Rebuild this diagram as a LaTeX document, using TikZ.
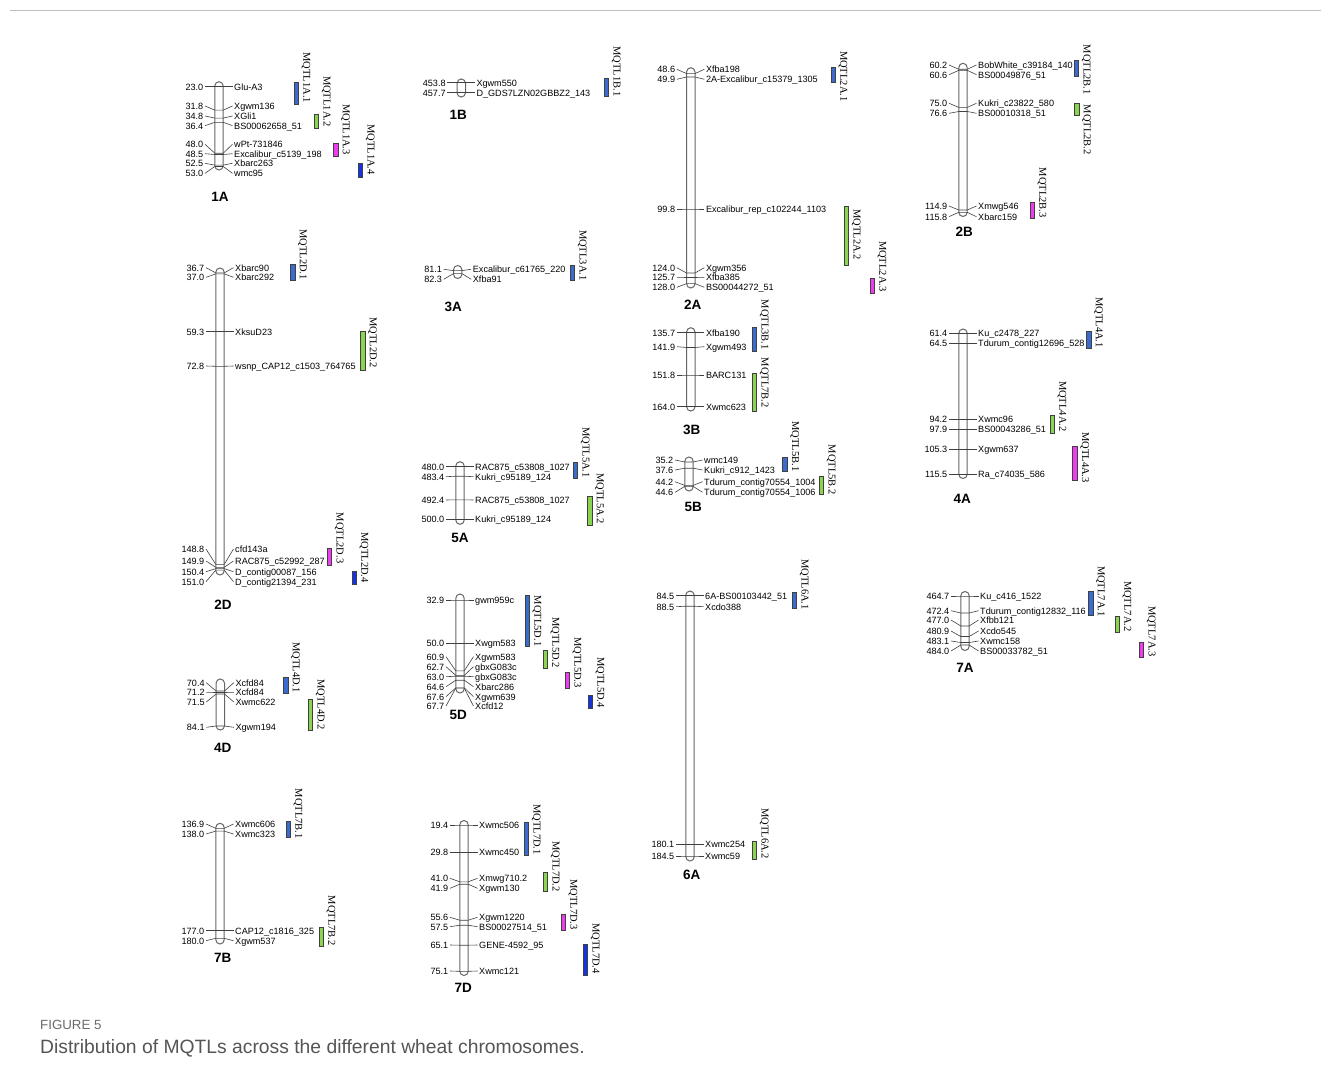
\documentclass[tikz,border=0pt]{standalone}
\usepackage{fontspec}
\setmainfont{Liberation Sans}
\newfontfamily\serifq{Liberation Serif}
\usetikzlibrary{calc}
\definecolor{qblue}{HTML}{3A6CD0}
\definecolor{qgreen}{HTML}{8AD44F}
\definecolor{qmag}{HTML}{EE3DEE}
\definecolor{qdark}{HTML}{1432E6}
\definecolor{capgray}{HTML}{555555}
\definecolor{figgray}{HTML}{6A6A6A}
\newcounter{mkc}
\newcounter{qc}
\tikzset{
  numl/.style={anchor=east, inner sep=0pt, text height=6.6pt, text depth=0pt, font=\fontsize{9.1}{10}\selectfont},
  naml/.style={anchor=west, inner sep=0pt, text height=6.6pt, text depth=0pt, font=\fontsize{9.1}{10}\selectfont},
  mline/.style={draw=black!75, line width=0.6pt},
  chrom/.style={draw=black!60, line width=1pt, fill=white, rounded corners=4.2pt, minimum width=8.4pt, inner sep=0pt},
  clab/.style={font=\fontsize{13.5}{14}\selectfont\bfseries, inner sep=0pt},
  qbar/.style={draw=black!75, line width=0.6pt},
  qlab/.style={rotate=-90, anchor=east, inner sep=0pt, text height=7.2pt, text depth=2.2pt, font=\fontsize{10.5}{11}\selectfont\serifq},
}
\newcommand\mk[5]{%
  \stepcounter{mkc}\edef\mkid{\arabic{mkc}}%
  \node[numl] (n\mkid) at (#1-15.5,#2) {#4};
  \node[naml] (m\mkid) at (#1+15,#2) {#5};
  \draw[mline] (n\mkid.east) ++(1.5,0) -- (#1-4.2,#3) -- (#1+4.2,#3) -- ($(m\mkid.west)+(-1.5,0)$);
}
\newcommand\chr[6]{%
  \node[chrom, minimum height={#4-#3}] (c#1) at (#2,{(#3+#4)/2}) {};
  \node[clab] (l#1) at (#5,#6) {#1};
}
\newcommand\qtl[6]{%
  \stepcounter{qc}\edef\qid{\arabic{qc}}%
  \draw[qbar, fill=#4] (#1,#2) rectangle (#1+4.3,#3);
  \node[qlab] (q\qid) at (#1+11.8,#6) {#5};
}
\begin{document}
\begin{tikzpicture}[x=1pt,y=-1pt]
\fill[white] (0,0) rectangle (1331,1081);
\useasboundingbox (0,0) rectangle (1331,1081);
\coordinate (rl) at (10,10.5);
\coordinate (rr) at (1321,10.5);
\draw[black!25, line width=0.8pt] (rl) -- (rr);

% ---------- 1A
\chr{1A}{219}{81.7}{170}{220}{196.7}
\mk{219}{86.7}{86.7}{23.0}{Glu-A3}
\mk{219}{106}{110.1}{31.8}{Xgwm136}
\mk{219}{116}{118.1}{34.8}{XGli1}
\mk{219}{125.7}{122.3}{36.4}{BS00062658\_51}
\mk{219}{144.3}{153.2}{48.0}{wPt-731846}
\mk{219}{153.7}{154.5}{48.5}{Excalibur\_c5139\_198}
\mk{219}{163.3}{165.1}{52.5}{Xbarc263}
\mk{219}{173.3}{166.5}{53.0}{wmc95}
\qtl{294}{82}{104.3}{qblue}{MQTL1A.1}{103.3}
\qtl{314.3}{114.3}{128.3}{qgreen}{MQTL1A.2}{126.7}
\qtl{333.5}{143.3}{156}{qmag}{MQTL1A.3}{155}
\qtl{358.3}{163.3}{177.3}{qdark}{MQTL1A.4}{175}

% ---------- 2D
\chr{2D}{220}{268}{575}{223}{605}
\mk{220}{267.7}{272.9}{36.7}{Xbarc90}
\mk{220}{277.3}{273.9}{37.0}{Xbarc292}
\mk{220}{331.7}{331.7}{59.3}{XksuD23}
\mk{220}{366}{366.3}{72.8}{wsnp\_CAP12\_c1503\_764765}
\mk{220}{549}{564.4}{148.8}{cfd143a}
\mk{220}{561}{567.3}{149.9}{RAC875\_c52992\_287}
\mk{220}{571.7}{568.6}{150.4}{D\_contig00087\_156}
\mk{220}{581.7}{570.1}{151.0}{D\_contig21394\_231}
\qtl{290.5}{264.3}{280}{qblue}{MQTL2D.1}{280}
\qtl{360.5}{331}{370}{qgreen}{MQTL2D.2}{368}
\qtl{327.2}{548.3}{565}{qmag}{MQTL2D.3}{563.5}
\qtl{352}{571}{584.3}{qdark}{MQTL2D.4}{583}

% ---------- 4D
\chr{4D}{220.3}{679}{730}{222.7}{748.3}
\mk{220.3}{682.7}{691}{70.4}{Xcfd84}
\mk{220.3}{692.3}{692.5}{71.2}{Xcfd84}
\mk{220.3}{702}{694}{71.5}{Xwmc622}
\mk{220.3}{727.3}{726}{84.1}{Xgwm194}
\qtl{283.5}{677.7}{693.3}{qblue}{MQTL4D.1}{693}
\qtl{308.3}{699.3}{730}{qgreen}{MQTL4D.2}{730}

% ---------- 7B
\chr{7B}{220}{823.3}{944}{222.7}{958.3}
\mk{220}{824}{828.3}{136.9}{Xwmc606}
\mk{220}{834}{831.1}{138.0}{Xwmc323}
\mk{220}{930.7}{930.7}{177.0}{CAP12\_c1816\_325}
\mk{220}{940.7}{938.3}{180.0}{Xgwm537}
\qtl{286}{821.7}{837.3}{qblue}{MQTL7B.1}{839}
\qtl{319}{927.3}{946}{qgreen}{MQTL7B.2}{946}

% ---------- 1B
\chr{1B}{461.3}{79}{97}{458.3}{115}
\mk{461.3}{82.7}{82.7}{453.8}{Xgwm550}
\mk{461.3}{92.7}{92.7}{457.7}{D\_GDS7LZN02GBBZ2\_143}
\qtl{604.3}{78.3}{96.7}{qblue}{MQTL1B.1}{96.7}

% ---------- 3A
\chr{3A}{457.7}{265.5}{278.5}{453.3}{306.7}
\mk{457.7}{269.3}{270.6}{81.1}{Excalibur\_c61765\_220}
\mk{457.7}{279.3}{273.6}{82.3}{Xfba91}
\qtl{570.3}{265}{280.7}{qblue}{MQTL3A.1}{280.7}

% ---------- 5A
\chr{5A}{460}{461.7}{524.3}{460}{538.3}
\mk{460}{466.7}{466.7}{480.0}{RAC875\_c53808\_1027}
\mk{460}{476.7}{476.2}{483.4}{Kukri\_c95189\_124}
\mk{460}{500}{499.8}{492.4}{RAC875\_c53808\_1027}
\mk{460}{519.3}{519.3}{500.0}{Kukri\_c95189\_124}
\qtl{573.3}{462.7}{478.3}{qblue}{MQTL5A.1}{478}
\qtl{587.5}{496}{525}{qgreen}{MQTL5A.2}{524}

% ---------- 5D
\chr{5D}{460}{594}{693}{458.3}{715}
\mk{460}{600}{600}{32.9}{gwm959c}
\mk{460}{643.3}{643.3}{50.0}{Xwgm583}
\mk{460}{656.7}{670.9}{60.9}{Xgwm583}
\mk{460}{666.7}{675.4}{62.7}{gbxG083c}
\mk{460}{676.7}{676.2}{63.0}{gbxG083c}
\mk{460}{686.7}{680.2}{64.6}{Xbarc286}
\mk{460}{696.7}{687.8}{67.6}{Xgwm639}
\mk{460}{706}{688.1}{67.7}{Xcfd12}
\qtl{525}{595}{646}{qblue}{MQTL5D.1}{646.5}
\qtl{543}{650}{668.3}{qgreen}{MQTL5D.2}{668}
\qtl{565}{672.3}{688.3}{qmag}{MQTL5D.3}{688}
\qtl{588}{695.7}{708.3}{qdark}{MQTL5D.4}{708}

% ---------- 7D
\chr{7D}{464}{820.5}{975.5}{463.3}{987.7}
\mk{464}{825}{825}{19.4}{Xwmc506}
\mk{464}{852.3}{852.3}{29.8}{Xwmc450}
\mk{464}{878.3}{881.8}{41.0}{Xmwg710.2}
\mk{464}{888.3}{884.2}{41.9}{Xgwm130}
\mk{464}{917.3}{920.2}{55.6}{Xgwm1220}
\mk{464}{926.7}{925.2}{57.5}{BS00027514\_51}
\mk{464}{945}{945.2}{65.1}{GENE-4592\_95}
\mk{464}{971}{971.3}{75.1}{Xwmc121}
\qtl{524.3}{822.3}{855.7}{qblue}{MQTL7D.1}{855}
\qtl{543.3}{872.7}{891.7}{qgreen}{MQTL7D.2}{892}
\qtl{561}{914.3}{930}{qmag}{MQTL7D.3}{930}
\qtl{583.3}{944}{975}{qdark}{MQTL7D.4}{974}

% ---------- 2A
\chr{2A}{690.8}{67.7}{288}{692.7}{304.3}
\mk{690.8}{69.3}{73.6}{48.6}{Xfba198}
\mk{690.8}{79.3}{77}{49.9}{2A-Excalibur\_c15379\_1305}
\mk{690.8}{209}{209}{99.8}{Excalibur\_rep\_c102244\_1103}
\mk{690.8}{267.7}{273}{124.0}{Xgwm356}
\mk{690.8}{277.3}{277.5}{125.7}{Xfba385}
\mk{690.8}{287.3}{283.6}{128.0}{BS00044272\_51}
\qtl{831}{67}{82.7}{qblue}{MQTL2A.1}{101.7}
\qtl{844.3}{206.7}{265}{qgreen}{MQTL2A.2}{260}
\qtl{870}{278.3}{293.3}{qmag}{MQTL2A.3}{291.7}

% ---------- 3B
\chr{3B}{690.8}{327.7}{411}{691.7}{430}
\mk{690.8}{332.7}{332.7}{135.7}{Xfba190}
\mk{690.8}{346.7}{347.5}{141.9}{Xgwm493}
\mk{690.8}{375}{375}{151.8}{BARC131}
\mk{690.8}{406.7}{406.7}{164.0}{Xwmc623}
\qtl{752.3}{327.7}{351.7}{qblue}{MQTL3B.1}{350}
\qtl{752.3}{373.3}{411}{qgreen}{MQTL7B.2}{408}

% ---------- 5B
\chr{5B}{689}{457}{491}{693.3}{507.3}
\mk{689}{460}{462}{35.2}{wmc149}
\mk{689}{470}{468.2}{37.6}{Kukri\_c912\_1423}
\mk{689}{481.7}{485.4}{44.2}{Tdurum\_contig70554\_1004}
\mk{689}{492.3}{486.4}{44.6}{Tdurum\_contig70554\_1006}
\qtl{782.7}{457.7}{471.7}{qblue}{MQTL5B.1}{471.7}
\qtl{819.3}{476}{494.3}{qgreen}{MQTL5B.2}{495}

% ---------- 6A
\chr{6A}{690}{591}{861}{691.7}{875}
\mk{690}{595.7}{595.7}{84.5}{6A-BS00103442\_51}
\mk{690}{606.7}{606.2}{88.5}{Xcdo388}
\mk{690}{844.3}{844.3}{180.1}{Xwmc254}
\mk{690}{856}{856}{184.5}{Xwmc59}
\qtl{792.3}{592.7}{608.3}{qblue}{MQTL6A.1}{610}
\qtl{752.3}{841.7}{859}{qgreen}{MQTL6A.2}{859}

% ---------- 2B
\chr{2B}{963}{63.3}{216.5}{964.3}{231.7}
\mk{963}{65}{69.3}{60.2}{BobWhite\_c39184\_140}
\mk{963}{74.7}{70.3}{60.6}{BS00049876\_51}
\mk{963}{103.3}{107.4}{75.0}{Kukri\_c23822\_580}
\mk{963}{113.3}{111.5}{76.6}{BS00010318\_51}
\mk{963}{206}{210}{114.9}{Xmwg546}
\mk{963}{216.7}{212.3}{115.8}{Xbarc159}
\qtl{1074.3}{60.7}{76.7}{qblue}{MQTL2B.1}{95}
\qtl{1074.5}{103.3}{115}{qgreen}{MQTL2B.2}{155}
\qtl{1030}{202.3}{218.3}{qmag}{MQTL2B.3}{218}

% ---------- 4A
\chr{4A}{963}{329}{478.5}{962.3}{499.3}
\mk{963}{333.3}{333.3}{61.4}{Ku\_c2478\_227}
\mk{963}{343.3}{343.3}{64.5}{Tdurum\_contig12696\_528}
\mk{963}{419.3}{419.3}{94.2}{Xwmc96}
\mk{963}{429.3}{429.3}{97.9}{BS00043286\_51}
\mk{963}{449.3}{449.3}{105.3}{Xgwm637}
\mk{963}{474.3}{474.3}{115.5}{Ra\_c74035\_586}
\qtl{1086.5}{331.7}{348.3}{qblue}{MQTL4A.1}{348}
\qtl{1050}{415}{433.3}{qgreen}{MQTL4A.2}{431.7}
\qtl{1072.7}{446}{480}{qmag}{MQTL4A.3}{483}

% ---------- 7A
\chr{7A}{965}{591.5}{650.5}{965}{668.3}
\mk{965}{596}{596}{464.7}{Ku\_c416\_1522}
\mk{965}{610.7}{613}{472.4}{Tdurum\_contig12832\_116}
\mk{965}{620}{626}{477.0}{Xfbb121}
\mk{965}{631}{636.5}{480.9}{Xcdo545}
\mk{965}{641}{642.5}{483.1}{Xwmc158}
\mk{965}{651}{645}{484.0}{BS00033782\_51}
\qtl{1088.5}{591}{615.7}{qblue}{MQTL7A.1}{616.7}
\qtl{1115}{616.7}{632.3}{qgreen}{MQTL7A.2}{631.7}
\qtl{1139.3}{642.3}{657.7}{qmag}{MQTL7A.3}{656.7}

% ---------- caption
\node[anchor=west, inner sep=0pt, text=figgray, font=\fontsize{13.3}{14}\selectfont] (figlab) at (40,1025) {FIGURE 5};
\node[anchor=west, inner sep=0pt, text=capgray, font=\fontsize{19.3}{20}\selectfont] (caption) at (40,1048) {Distribution of MQTLs across the different wheat chromosomes.};
\end{tikzpicture}
\end{document}
